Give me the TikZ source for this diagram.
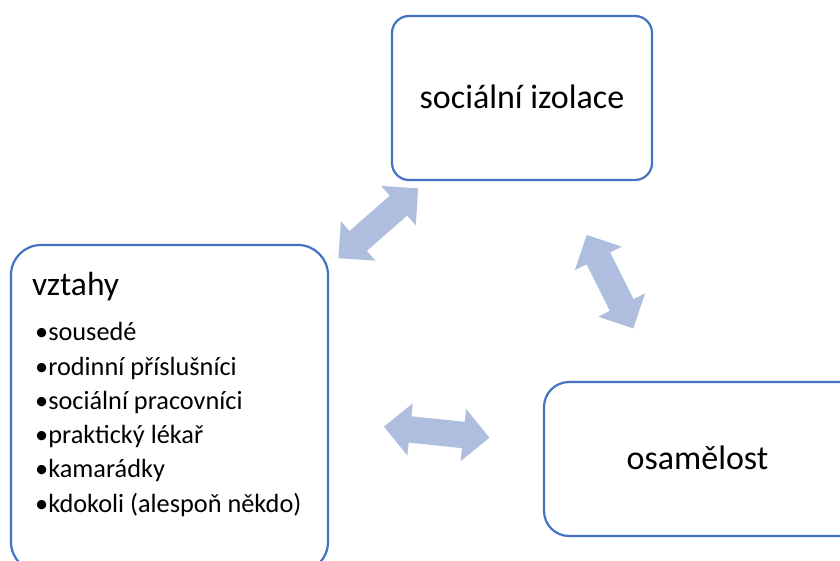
\documentclass[tikz,border=0pt]{standalone}
\usepackage{fontspec}
\setmainfont{Carlito}
\usetikzlibrary{shapes.arrows}
\definecolor{boxblue}{RGB}{68,114,196}
\definecolor{arrowblue}{RGB}{175,189,222}
\begin{document}
\begin{tikzpicture}[x=1pt,y=1pt,
  card/.style={draw=boxblue, line width=2.2pt, fill=white, inner sep=0pt},
  link/.style={double arrow, fill=arrowblue, draw=none, inner xsep=0pt, inner ysep=13pt,
    minimum width=52pt, double arrow head extend=13pt,
    double arrow tip angle=90, minimum height=106pt},
  title/.style={font=\fontsize{34}{40}\selectfont, anchor=base, inner sep=0pt},
  item/.style={font=\fontsize{26.3}{32}\selectfont, anchor=base west, inner sep=0pt}]
\clip (0,0) rectangle (840,560);
\fill[white] (0,0) rectangle (840,560);

% the three boxes
\node[card, rounded corners=17pt, minimum width=260pt, minimum height=164pt] (iso) at (522,462) {};
\node[card, rounded corners=30pt, minimum width=317pt, minimum height=327pt] (rel) at (169.5,151.5) {};
\node[card, rounded corners=25pt, minimum width=326pt, minimum height=154pt] (osa) at (707,101) {};

% box texts
\node[title] (isot) at (522,451.7) {sociální izolace};
\node[title] (osat) at (697.5,91) {osamělost};
\node[title, anchor=base west, font=\fontsize{33.5}{40}\selectfont] (relt) at (32,264) {vztahy};
\node[item] (r1) at (35,219) {•sousedé};
\node[item] (r2) at (35,184.8) {•rodinní příslušníci};
\node[item] (r3) at (35,150.6) {•sociální pracovníci};
\node[item] (r4) at (35,116.4) {•praktický lékař};
\node[item] (r5) at (35,82.2) {•kamarádky};
\node[item] (r6) at (35,48) {•kdokoli (alespoň někdo)};

% two-headed block arrows between the boxes
\node[link, rotate=41.2] (a1) at (378.3,336.7) {};
\node[link, rotate=-63.5, minimum height=104.5pt] (a2) at (610,278.3) {};
\node[link, rotate=-6] (a3) at (436.7,127.8) {};
\end{tikzpicture}
\end{document}
